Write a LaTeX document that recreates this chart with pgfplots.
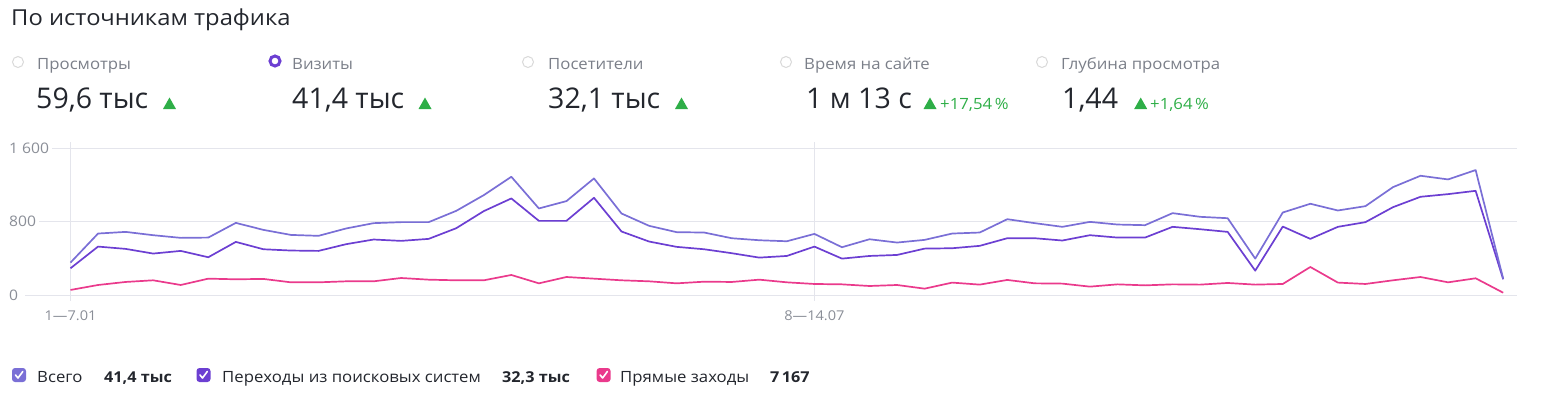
\documentclass[border=0pt]{standalone}
\usepackage{pgfplots}
\pgfplotsset{compat=1.18}
\usepackage{pgfplotstable}
\usepackage{fontspec}
\setmainfont{Open Sans}[FakeStretch=1.08]
\newfontfamily\valfont{Open Sans}
\definecolor{cTotal}{HTML}{7A6FD6}
\definecolor{cSearch}{HTML}{6C3FD2}
\definecolor{cDirect}{HTML}{EA3A8C}
\definecolor{cGreen}{HTML}{2EAE47}
\definecolor{cLabel}{HTML}{7B7F89}
\definecolor{cDark}{HTML}{23262D}
\definecolor{cGrid}{HTML}{E4E5EC}
\definecolor{cTick}{HTML}{8A8E97}

\pgfplotstableread{
x total search direct
0 353 291 55
1 669 527 109
2 687 502 142
3 651 451 160
4 622 480 109
5 625 411 178
6 785 578 171
7 709 498 175
8 654 484 138
9 644 480 138
10 724 553 149
11 782 604 149
12 793 589 185
13 793 611 167
14 916 727 160
15 1087 913 160
16 1287 1051 218
17 942 807 127
18 1022 807 196
19 1269 1058 178
20 887 691 160
21 753 582 149
22 684 524 127
23 680 498 145
24 618 455 142
25 596 407 167
26 585 425 138
27 665 527 120
28 520 396 116
29 607 425 98
30 571 436 109
31 600 505 69
32 669 509 135
33 680 535 113
34 825 618 164
35 782 618 127
36 742 593 124
37 796 651 91
38 767 625 116
39 760 625 105
40 891 742 116
41 851 716 113
42 836 687 131
43 396 265 113
44 898 745 120
45 993 611 305
46 920 742 135
47 967 793 120
48 1174 956 160
49 1298 1069 196
50 1258 1098 138
51 1360 1134 182
52 178 171 25
}\traffic

\begin{document}
\begin{tikzpicture}[x=1pt,y=-1pt]
\path[use as bounding box] (0,0) rectangle (1543,397);

% title
\node[anchor=base west,inner sep=0,text=cDark,font=\fontsize{22}{22}\selectfont] at (11,25) {По источникам трафика};

% metric radios
\foreach \cx in {18,528,786,1042}{
  \draw[draw=black!15,line width=1pt,fill=white] (\cx,62) circle (5.5);
}
\draw[draw=cSearch,line width=3pt,fill=white] (275,61) circle (5);

% metric labels
\begin{scope}[every node/.style={anchor=base west,inner sep=0,text=cLabel,font=\fontsize{15.5}{16}\selectfont}]
\node at (37,69) {Просмотры};
\node at (292,69) {Визиты};
\node at (548,69) {Посетители};
\node at (804,69) {Время на сайте};
\node at (1061,69) {Глубина просмотра};
\end{scope}

% metric values
\begin{scope}[every node/.style={anchor=base west,inner sep=0,text=cDark,font=\valfont\fontsize{28.5}{28}\selectfont}]
\node at (36,108) {59,6 тыс};
\node at (292,108) {41,4 тыс};
\node at (548,108) {32,1 тыс};
\node at (806,108) {1 м 13 с};
\node at (1062,108) {1,44};
\end{scope}

% green triangles
\foreach \tx in {169.5,425,681.5,930,1140.7}{
  \fill[cGreen] (\tx-6.5,109) -- (\tx+6.5,109) -- (\tx,97.5) -- cycle;
}
\node[anchor=base west,inner sep=0,text=cGreen,font=\fontsize{15.5}{15}\selectfont] at (940,109) {+17,54\,\%};
\node[anchor=base west,inner sep=0,text=cGreen,font=\fontsize{15.5}{15}\selectfont] at (1150,109) {+1,64\,\%};

% chart
\begin{axis}[
  at={(25pt,-295pt)}, anchor=south west,
  scale only axis, width=1492pt, height=147pt,
  xmin=-1.652, xmax=52.5, ymin=0, ymax=1600,
  axis line style={draw=none},
  xtick={0,27}, xticklabels={1—7.01,8—14.07},
  ytick={0,800,1600}, yticklabels={0,800,1 600},
  xmajorgrids, ymajorgrids,
  grid style={draw=cGrid,line width=1pt},
  tick align=outside, major tick length=6pt,
  xtick style={draw=cGrid,line width=1pt},
  ytick style={draw=none},
  xticklabel style={text=cTick,font=\fontsize{13.5}{14}\selectfont,yshift=-6pt},
  yticklabel style={text=cTick,font=\fontsize{14.5}{14}\selectfont,anchor=west,xshift=-13pt,fill=white,inner xsep=3pt},
  clip=false,
]
\addplot[cDirect,line width=1.7pt,line join=round] table[x=x,y=direct] {\traffic};
\addplot[cSearch,line width=1.7pt,line join=round] table[x=x,y=search] {\traffic};
\addplot[cTotal,line width=1.7pt,line join=round] table[x=x,y=total] {\traffic};
\end{axis}

% legend
\foreach \lx/\lc in {19/cTotal,203.5/cSearch,603.6/cDirect}{
  \fill[\lc,rounded corners=3pt] (\lx-7,368) rectangle (\lx+7,382);
  \draw[white,line width=1.6pt,line cap=round,line join=round] (\lx-3.5,375) -- (\lx-1,378) -- (\lx+3.8,371.5);
}
\begin{scope}[every node/.style={anchor=base west,inner sep=0,text=cDark,font=\fontsize{15.5}{15}\selectfont}]
\node at (37,382) {Всего};
\node[font=\fontsize{15}{15}\selectfont\bfseries] at (104,382) {41,4 тыс};
\node at (222,382) {Переходы из поисковых систем};
\node[font=\fontsize{15}{15}\selectfont\bfseries] at (502,382) {32,3 тыс};
\node at (620,382) {Прямые заходы};
\node[font=\fontsize{15}{15}\selectfont\bfseries] at (770,382) {7\,167};
\end{scope}
\end{tikzpicture}
\end{document}
